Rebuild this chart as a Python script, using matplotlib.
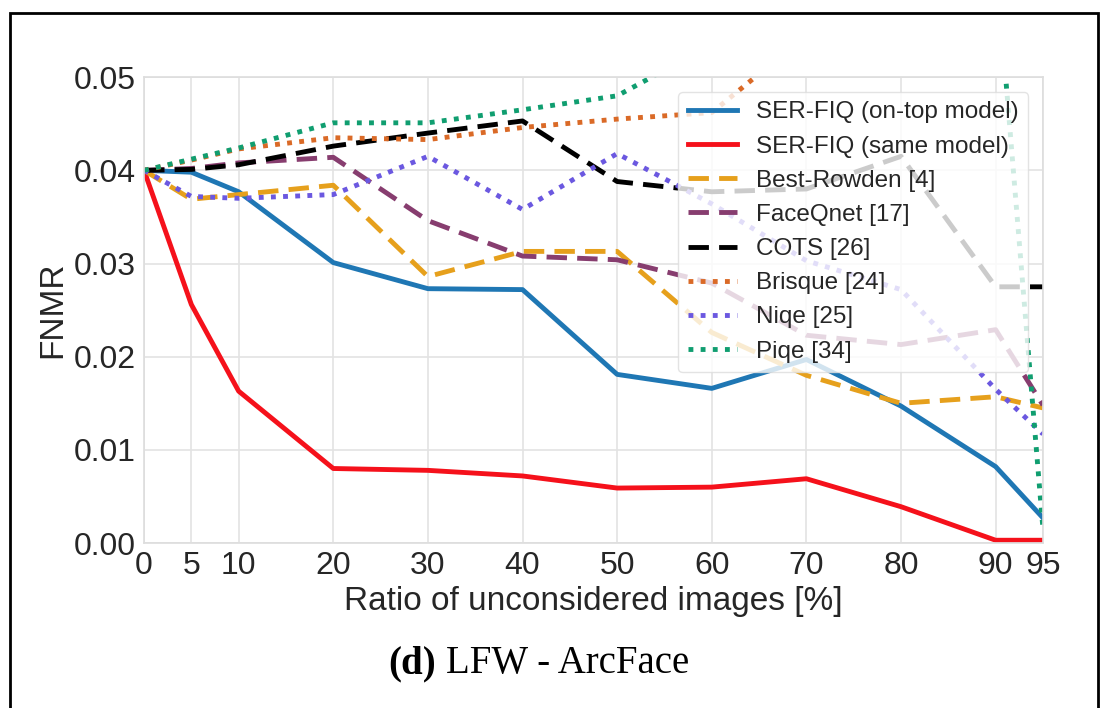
import matplotlib
matplotlib.use("Agg")
import matplotlib.pyplot as plt
from matplotlib.patches import Rectangle

# ratios of unconsidered images [%]
ratios = [0, 5, 10, 20, 30, 40, 50, 60, 70, 80, 90, 95]

# FNMR per method (values above 0.05 leave the visible area)
serfiq_ontop = [0.0400, 0.0398, 0.0377, 0.0301, 0.0273, 0.0272, 0.0181, 0.0166, 0.0197, 0.0147, 0.0082, 0.0027]
serfiq_same = [0.0400, 0.0256, 0.0163, 0.0080, 0.0078, 0.0072, 0.0059, 0.0060, 0.0069, 0.0039, 0.0003, 0.0003]
best_rowden = [0.0400, 0.0369, 0.0374, 0.0384, 0.0286, 0.0313, 0.0313, 0.0226, 0.0180, 0.0150, 0.0157, 0.0145]
faceqnet = [0.0400, 0.0402, 0.0408, 0.0414, 0.0346, 0.0308, 0.0304, 0.0279, 0.0223, 0.0213, 0.0229, 0.0148]
cots = [0.0400, 0.0401, 0.0406, 0.0426, 0.0440, 0.0453, 0.0388, 0.0377, 0.0380, 0.0415, 0.0275, 0.0275]
brisque = [0.0400, 0.0411, 0.0423, 0.0435, 0.0433, 0.0446, 0.0455, 0.0462, 0.0545, 0.0600, 0.0650, 0.0700]
niqe = [0.0400, 0.0372, 0.0370, 0.0374, 0.0415, 0.0358, 0.0418, 0.0364, 0.0303, 0.0272, 0.0165, 0.0117]
piqe = [0.0400, 0.0412, 0.0424, 0.0451, 0.0451, 0.0465, 0.0480, 0.0535, 0.0580, 0.0610, 0.0630, 0.0015]

xticks = [0, 5, 10, 20, 30, 40, 50, 60, 70, 80, 90, 95]
yticks = [0.00, 0.01, 0.02, 0.03, 0.04, 0.05]

plt.rcParams['font.family'] = ['Liberation Sans', 'DejaVu Sans']

fig = plt.figure(figsize=(11.08, 7.08), dpi=100)
ax = fig.add_axes([0.130, 0.233, 0.8113, 0.658])

lw = 3.5
dash = (4.2, 2.1)
dot = (1, 1.5)
ax.plot(ratios, serfiq_ontop, color='#1f77b4', lw=lw, label='SER-FIQ (on-top model)')
ax.plot(ratios, serfiq_same, color='#f5111b', lw=lw, label='SER-FIQ (same model)')
ax.plot(ratios, best_rowden, color='#e6a01c', lw=lw, dashes=dash, label='Best-Rowden [4]')
ax.plot(ratios, faceqnet, color='#873d6f', lw=lw, dashes=dash, label='FaceQnet [17]')
ax.plot(ratios, cots, color='black', lw=lw, dashes=dash, label='COTS [26]')
ax.plot(ratios, brisque, color='#da6a27', lw=lw, dashes=dot, label='Brisque [24]')
ax.plot(ratios, niqe, color='#6b58e0', lw=lw, dashes=dot, label='Niqe [25]')
ax.plot(ratios, piqe, color='#109e70', lw=lw, dashes=dot, label='Piqe [34]')

ax.set_xlim(0, 95)
ax.set_ylim(0, 0.05)
ax.set_xticks(xticks)
ax.set_yticks(yticks)
ax.set_yticklabels([f'{v:.2f}' for v in yticks])
ax.grid(True, color='#e3e3e3', lw=1.2)
ax.set_axisbelow(True)
for s in ax.spines.values():
    s.set_color('#dddddd')
    s.set_linewidth(1.2)
ax.tick_params(length=0, labelsize=23, colors='#262626', pad=6)
ax.set_xlabel('Ratio of unconsidered images [%]', fontsize=24, color='#262626', labelpad=3)
ax.set_ylabel('FNMR', fontsize=24, color='#262626', labelpad=4)

leg = ax.legend(loc='upper right', fontsize=17.5, frameon=True, framealpha=0.8,
                edgecolor='#dddddd', fancybox=True, borderaxespad=0.6)
for t in leg.get_texts():
    t.set_color('#262626')

# caption under the plot
fig.text(436 / 1108, 1 - 664 / 708, '(d)', family=['Liberation Serif', 'DejaVu Serif'],
         fontweight='bold', fontsize=28, ha='right', va='center')
fig.text(446 / 1108, 1 - 664 / 708, 'LFW - ArcFace', family=['Liberation Serif', 'DejaVu Serif'],
         fontsize=28, ha='left', va='center')

# black frame round the figure
fig.patches.append(Rectangle((10 / 1108, -0.1), 1088 / 1108, 1.1 - 13 / 708,
                             transform=fig.transFigure, fill=False, edgecolor='black',
                             lw=2.0, figure=fig))

fig.savefig('out.png', dpi=100)
